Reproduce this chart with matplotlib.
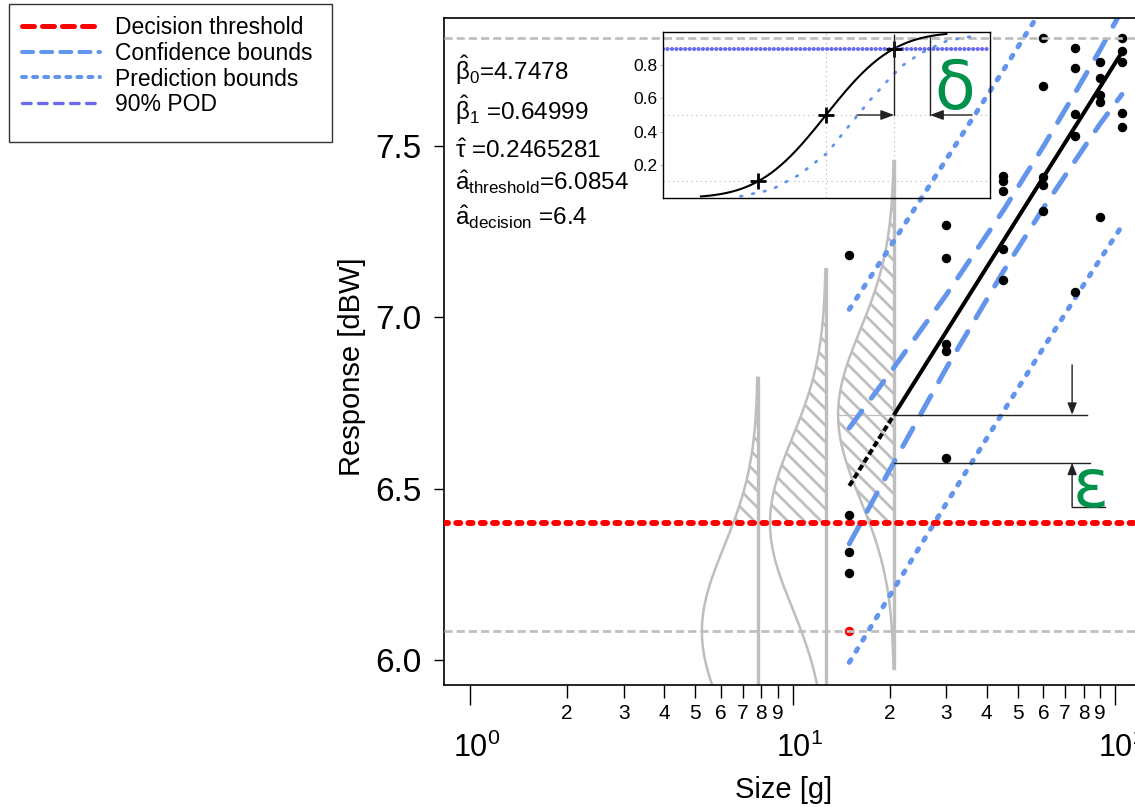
import numpy as np
import matplotlib.pyplot as plt
import matplotlib.transforms as mtransforms
from matplotlib.lines import Line2D
from matplotlib.patches import Rectangle
from matplotlib.ticker import FixedLocator, FuncFormatter, NullLocator
from math import erf

plt.rcParams['font.family'] = ['Liberation Sans', 'DejaVu Sans']
plt.rcParams['mathtext.fontset'] = 'custom'
plt.rcParams['mathtext.rm'] = 'Liberation Sans'
plt.rcParams['mathtext.it'] = 'Liberation Sans:italic'
plt.rcParams['mathtext.bf'] = 'Liberation Sans:bold'
plt.rcParams['mathtext.default'] = 'regular'
plt.rcParams['hatch.color'] = '#bebebe'
plt.rcParams['hatch.linewidth'] = 2.0

GRAY = '#bebebe'
BLUE = '#6495ed'
PURPLE = '#6a6af0'
GREEN = '#00924a'

# model estimates printed on the chart
beta0 = 4.7478
beta1 = 0.64999
tau = 0.2465281
a_threshold = 6.0854
a_decision = 6.4
saturation = 7.815

# observed responses, five per size
sizes = [15, 30, 45, 60, 75, 90, 105]
responses = [
    [7.182, 6.423, 6.315, 6.254, 6.085],
    [7.269, 7.173, 6.922, 6.902, 6.589],
    [7.412, 7.398, 7.369, 7.199, 7.109],
    [7.815, 7.675, 7.409, 7.386, 7.310],
    [7.786, 7.727, 7.593, 7.529, 7.074],
    [7.745, 7.698, 7.649, 7.628, 7.293],
    [7.815, 7.777, 7.745, 7.596, 7.555],
]

# confidence / prediction bounds
bound_sizes = [15, 20, 30, 45, 60, 75, 90, 105]
conf_upper = [6.677, 6.836, 7.066, 7.311, 7.499, 7.653, 7.781, 7.896]
conf_lower = [6.339, 6.554, 6.852, 7.133, 7.319, 7.455, 7.565, 7.650]
pred_upper = [7.023, 7.203, 7.461, 7.720, 7.907, 8.054, 8.176, 8.280]
pred_lower = [5.993, 6.187, 6.457, 6.724, 6.911, 7.054, 7.170, 7.266]

# a10, a50, a90 and a90/95
pod_levels = [0.1, 0.5, 0.9]
pod_sizes = [7.81, 12.70, 20.65]
a90_95 = 26.7
eps_level = 6.575

# lower confidence bound of the POD curve (inset)
pod_lb_sizes = [6.9, 8.6, 10.5, 12.8, 14.9, 17.4, 20.0, 22.0, 24.9, 26.7, 30.0, 33.5, 37.0]
pod_lb = [0.01, 0.05, 0.14, 0.27, 0.43, 0.59, 0.72, 0.80, 0.87, 0.90, 0.945, 0.965, 0.976]

minor_ticks = [2, 3, 4, 5, 6, 7, 8, 9, 20, 30, 40, 50, 60, 70, 80, 90]


def fit(a):
    return beta0 + beta1 * np.log(a)


fig = plt.figure(figsize=(11.35, 8.07), dpi=100)
ax = fig.add_axes([444 / 1135, 122 / 807, 696 / 1135, 667 / 807])
ax.set_xscale('log')
ax.set_xlim(0.8306, 119.5)
ax.set_ylim(5.927, 7.873)
for s in ax.spines.values():
    s.set_linewidth(1.2)

# ---- densities at a10, a50, a90 ----
dens_scale = 0.1073  # decades per unit of pdf
for a in pod_sizes:
    mu = fit(a)
    y = np.linspace(mu - 3 * tau, mu + 3 * tau, 300)
    pdf = np.exp(-0.5 * ((y - mu) / tau) ** 2) / (tau * np.sqrt(2 * np.pi))
    x = a * 10 ** (-dens_scale * pdf)
    m = y >= a_decision
    ax.fill_betweenx(y[m], x[m], a, facecolor='none', edgecolor=GRAY,
                     hatch='\\\\', linewidth=0, zorder=1)
    ax.plot(x, y, color=GRAY, lw=1.8, zorder=1.2)
    ax.plot([a, a], [y[0], y[-1]], color=GRAY, lw=2.4, zorder=1.2)

a90 = pod_sizes[2]
peak_x = a90 * 10 ** (-dens_scale / (tau * np.sqrt(2 * np.pi)))
ax.plot([peak_x, a90], [fit(a90), fit(a90)], color=GRAY, lw=0.9, zorder=1.1)

# ---- bounds ----
ax.plot(bound_sizes, conf_upper, color=BLUE, lw=3.6, dashes=(4.2, 3.2),
        dash_capstyle='round', zorder=2)
ax.plot(bound_sizes, conf_lower, color=BLUE, lw=3.6, dashes=(4.2, 3.2),
        dash_capstyle='round', zorder=2)
ax.plot(bound_sizes, pred_upper, color=BLUE, lw=3.6, dashes=(0.6, 2.0),
        dash_capstyle='round', zorder=2)
ax.plot(bound_sizes, pred_lower, color=BLUE, lw=3.6, dashes=(0.6, 2.0),
        dash_capstyle='round', zorder=2)

# ---- regression line ----
ax.plot([sizes[0], a90], [fit(sizes[0]), fit(a90)], color='black', lw=2.9,
        dashes=(1.5, 0.8), zorder=3)
ax.plot([a90, sizes[-1]], [fit(a90), fit(sizes[-1])], color='black', lw=2.9,
        solid_capstyle='butt', zorder=3)

# ---- decision threshold ----
ax.axhline(a_decision, color='red', lw=4.3, dashes=(0.67, 1.38),
           dash_capstyle='round', zorder=4)

# ---- observations ----
for s, vals in zip(sizes, responses):
    for v in vals:
        c = 'red' if v <= a_threshold + 0.01 else 'black'
        ax.plot(s, v, 'o', color=c, ms=5.8, mec=c, zorder=5)

# threshold / saturation lines
ax.axhline(a_threshold, color=GRAY, lw=1.95, dashes=(3, 1.5), zorder=6)
ax.axhline(saturation, color=GRAY, lw=1.95, dashes=(3, 1.5), zorder=6)

# ---- epsilon construction ----
ax.plot([a90, 81.9], [fit(a90), fit(a90)], color='#222222', lw=1.0, zorder=3)
ax.plot([a90, 83.9], [eps_level, eps_level], color='#222222', lw=1.0, zorder=3)
arw = dict(arrowstyle='-|>,head_length=0.7,head_width=0.28', color='#222222',
           lw=1.0, shrinkA=0, shrinkB=0)
ax.annotate('', xy=(73.6, fit(a90)), xytext=(73.6, 6.861), arrowprops=arw, zorder=3)
ax.annotate('', xy=(73.6, eps_level), xytext=(73.6, 6.447), arrowprops=arw, zorder=3)
ax.plot([73.6, 93.1], [6.447, 6.447], color='#222222', lw=1.0, zorder=3)

# ---- axes ticks ----
ax.xaxis.set_major_locator(FixedLocator([1, 10, 100]))
ax.xaxis.set_major_formatter(FuncFormatter(lambda v, p: r'$10^{%d}$' % round(np.log10(v))))
ax.xaxis.set_minor_locator(FixedLocator(minor_ticks))
ax.xaxis.set_minor_formatter(FuncFormatter(
    lambda v, p: '%d' % round(v / 10 ** np.floor(np.log10(v) + 1e-9))))
ax.tick_params(axis='x', which='major', length=14.4, width=1, labelsize=22, pad=20)
ax.tick_params(axis='x', which='minor', length=9, width=1, labelsize=15, pad=5)
shift = mtransforms.ScaledTranslation(7 / 100, 0, fig.dpi_scale_trans)
for lab in ax.xaxis.get_majorticklabels():
    lab.set_transform(lab.get_transform() + shift)
ax.set_yticks([6.0, 6.5, 7.0, 7.5])
ax.set_yticklabels(['6.0', '6.5', '7.0', '7.5'])
ax.tick_params(axis='y', length=7, width=1, labelsize=24, pad=9)

fig.text(352 / 1135, 1 - 367 / 807, 'Response [dBW]', rotation=90,
         ha='center', va='center', fontsize=21)
fig.text(784 / 1135, 1 - 790 / 807, 'Size [g]', ha='center', va='center', fontsize=21)

# ---- parameter text ----
params = [
    (r'$\hat{\beta}_0$=4.7478', 80),
    (r'$\hat{\beta}_1$ =0.64999', 120),
    (r'$\hat{\tau}$ =0.2465281', 158),
    (r'$\hat{a}_{threshold}$=6.0854', 190),
    (r'$\hat{a}_{decision}$ =6.4', 225),
]
for txt, yb in params:
    fig.text(455 / 1135, 1 - yb / 807, txt, fontsize=17.5, va='baseline', ha='left')

fig.text(955 / 1135, 1 - 90 / 807, 'δ', fontsize=48, color=GREEN,
         ha='center', va='center', family='DejaVu Sans')
fig.text(1091 / 1135, 1 - 488 / 807, 'ε', fontsize=48, color=GREEN,
         ha='center', va='center', family='DejaVu Sans')

# ---- inset: POD curve ----
ins = fig.add_axes([663 / 1135, 609 / 807, 327 / 1135, 166 / 807])
ins.set_facecolor('none')
ins.set_xscale('log')
ins.set_xlim(3.967, 40.96)
ins.set_ylim(0, 1)
ins.xaxis.set_major_locator(NullLocator())
ins.xaxis.set_minor_locator(NullLocator())
ins.set_yticks([0.2, 0.4, 0.6, 0.8])
ins.set_yticklabels(['0.2', '0.4', '0.6', '0.8'])
ins.tick_params(axis='y', length=2, width=0.8, labelsize=12.5, pad=2, color=GRAY)
for s in ins.spines.values():
    s.set_linewidth(1.0)

for lev in [0.1, 0.5]:
    ins.axhline(lev, color=GRAY, lw=0.8, dashes=(1.2, 3))
for a in pod_sizes[1:]:
    ins.axvline(a, color=GRAY, lw=0.8, dashes=(1.2, 3))

a_grid = np.geomspace(5.2, 30, 200)
z = (fit(a_grid) - a_decision) / (tau * np.sqrt(2))
pod = 0.5 * (1 + np.vectorize(erf)(z))
ins.plot(a_grid, pod, color='black', lw=1.5)
ins.plot(pod_lb_sizes, pod_lb, color=BLUE, lw=2.0, dashes=(0.6, 3.7),
         dash_capstyle='round')
ins.axhline(0.9, color=PURPLE, lw=2.9, dashes=(0.05, 1.05), dash_capstyle='round')
ins.plot(pod_sizes, pod_levels, '+', color='black', ms=12, mew=2)

ins.plot([a90, a90], [0.5, 0.98], color='#222222', lw=1.0)
ins.plot([a90_95, a90_95], [0.5, 0.98], color='#222222', lw=1.0)
arw2 = dict(arrowstyle='-|>,head_length=0.8,head_width=0.3', color='#222222',
            lw=1.0, shrinkA=0, shrinkB=0)
ins.annotate('', xy=(a90, 0.5), xytext=(15.85, 0.5), arrowprops=arw2)
ins.annotate('', xy=(a90_95, 0.5), xytext=(36.0, 0.5), arrowprops=arw2)

# ---- legend ----
handles = [
    Line2D([], [], color='red', lw=3.6, dashes=(2.4, 1.6), dash_capstyle='round'),
    Line2D([], [], color=BLUE, lw=2.9, dashes=(2.75, 2.0), dash_capstyle='round'),
    Line2D([], [], color=BLUE, lw=2.9, dashes=(1.0, 1.75), dash_capstyle='round'),
    Line2D([], [], color=PURPLE, lw=2.4, dashes=(2.6, 2.2), dash_capstyle='round'),
]
labels = ['Decision threshold', 'Confidence bounds', 'Prediction bounds', '90% POD']
fig.legend(handles, labels, loc='upper left', bbox_to_anchor=(22 / 1135, 1 - 16 / 807),
           frameon=False, fontsize=16.5, handlelength=3.4, handletextpad=0.65,
           labelspacing=0.12, borderpad=0, borderaxespad=0)
fig.add_artist(Rectangle((9 / 1135, 1 - 142 / 807), 323 / 1135, 138 / 807,
                         transform=fig.transFigure, fill=False, edgecolor='#333333', lw=1.0))

fig.savefig('out.png', dpi=100)
